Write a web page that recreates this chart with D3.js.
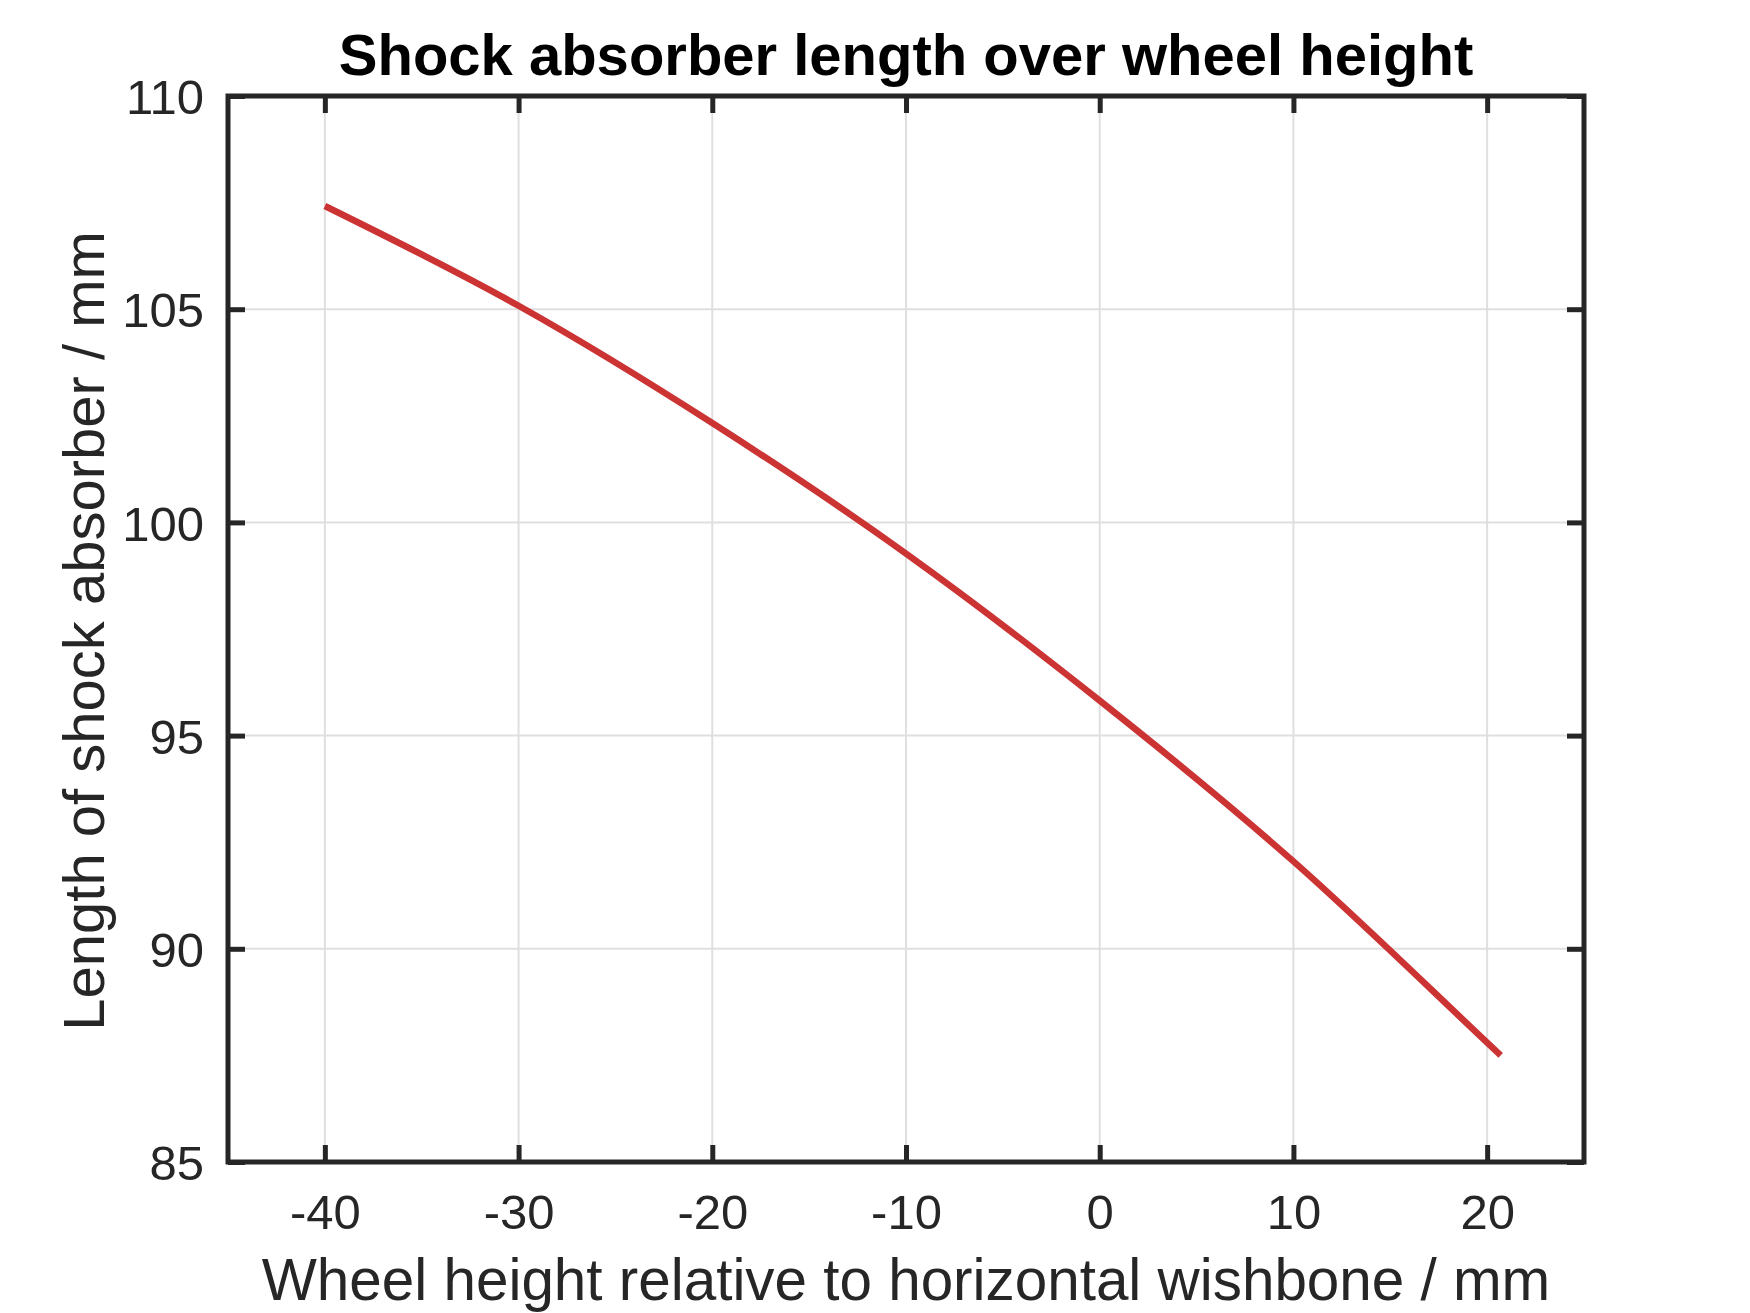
<!DOCTYPE html>
<html>
<head>
<meta charset="utf-8">
<script src="https://cdn.jsdelivr.net/npm/d3@7"></script>
<style>
  html, body { margin: 0; padding: 0; background: #fff; }
  svg { display: block; }
  text { font-family: "Liberation Sans", Arial, Helvetica, sans-serif; fill: #262626; }
</style>
</head>
<body>
<svg id="chart" width="1750" height="1313"></svg>
<script>
// ---- data ----
const wheelHeight = [-40, -30, -20, -10, 0, 10, 20, 20.7];
const shockLength = [107.42, 105.08, 102.33, 99.27, 95.82, 92.05, 87.8, 87.5];
const xTicks = [-40, -30, -20, -10, 0, 10, 20];
const yTicks = [85, 90, 95, 100, 105, 110];
const xDomain = [-45, 25];
const yDomain = [85, 110];
const titleText = "Shock absorber length over wheel height";
const xLabelText = "Wheel height relative to horizontal wishbone / mm";
const yLabelText = "Length of shock absorber / mm";

(function () {
  // ---- layout ----
  const L = 228, R = 1584, T = 96, B = 1162;
  const svg = d3.select("#chart");
  const x = d3.scaleLinear().domain(xDomain).range([L, R]);
  const y = d3.scaleLinear().domain(yDomain).range([B, T]);
  const axisColor = "#262626";

  // grid
  const grid = svg.append("g");
  grid.selectAll("line.gx").data(xTicks).enter().append("line")
    .attr("x1", d => x(d)).attr("x2", d => x(d)).attr("y1", T).attr("y2", B)
    .attr("stroke", "#dfdfdf").attr("stroke-width", 2);
  grid.selectAll("line.gy").data(yTicks).enter().append("line")
    .attr("y1", d => y(d)).attr("y2", d => y(d)).attr("x1", L).attr("x2", R)
    .attr("stroke", "#dfdfdf").attr("stroke-width", 2);

  // line
  const pts = wheelHeight.map((w, i) => [w, shockLength[i]]);
  svg.append("path")
    .datum(pts)
    .attr("fill", "none")
    .attr("stroke", "#cc3333")
    .attr("stroke-width", 6.5)
    .attr("d", d3.line().x(d => x(d[0])).y(d => y(d[1])).curve(d3.curveMonotoneX));

  // axes with inward ticks (both sides)
  const tickLen = 17;
  const fmt = d => String(d);
  const gBottom = svg.append("g").attr("transform", `translate(0,${B})`)
    .call(d3.axisBottom(x).tickValues(xTicks).tickSizeInner(-tickLen).tickSizeOuter(0).tickPadding(0).tickFormat(fmt));
  const gTop = svg.append("g").attr("transform", `translate(0,${T})`)
    .call(d3.axisTop(x).tickValues(xTicks).tickSizeInner(-tickLen).tickSizeOuter(0).tickFormat(""));
  const gLeft = svg.append("g").attr("transform", `translate(${L},0)`)
    .call(d3.axisLeft(y).tickValues(yTicks).tickSizeInner(-tickLen).tickSizeOuter(0).tickPadding(0).tickFormat(fmt));
  const gRight = svg.append("g").attr("transform", `translate(${R},0)`)
    .call(d3.axisRight(y).tickValues(yTicks).tickSizeInner(-tickLen).tickSizeOuter(0).tickFormat(""));

  [gBottom, gTop, gLeft, gRight].forEach(g => {
    g.select(".domain").remove();
    g.selectAll(".tick line").attr("stroke", axisColor).attr("stroke-width", 5);
    g.selectAll(".tick text").attr("fill", axisColor)
      .style("font-family", '"Liberation Sans", Arial, sans-serif').style("font-size", "49px");
  });
  gBottom.selectAll(".tick text").attr("dy", null).attr("y", 1229 - B);
  gLeft.selectAll(".tick text").attr("x", 204 - L).attr("dy", "0.36em");

  // frame
  svg.append("rect").attr("x", L).attr("y", T).attr("width", R - L).attr("height", B - T)
    .attr("fill", "none").attr("stroke", axisColor).attr("stroke-width", 5);

  // title
  svg.append("text").attr("x", (L + R) / 2).attr("y", 75)
    .attr("text-anchor", "middle").style("font-weight", "bold").style("font-size", "58px")
    .style("fill", "#000")
    .text(titleText);

  // x label
  svg.append("text").attr("x", (L + R) / 2).attr("y", 1300)
    .attr("text-anchor", "middle").style("font-size", "58.4px")
    .text(xLabelText);

  // y label
  svg.append("text").attr("transform", `translate(104,${(T + B) / 2 + 2}) rotate(-90)`)
    .attr("text-anchor", "middle").style("font-size", "58px")
    .text(yLabelText);
})();
</script>
</body>
</html>
